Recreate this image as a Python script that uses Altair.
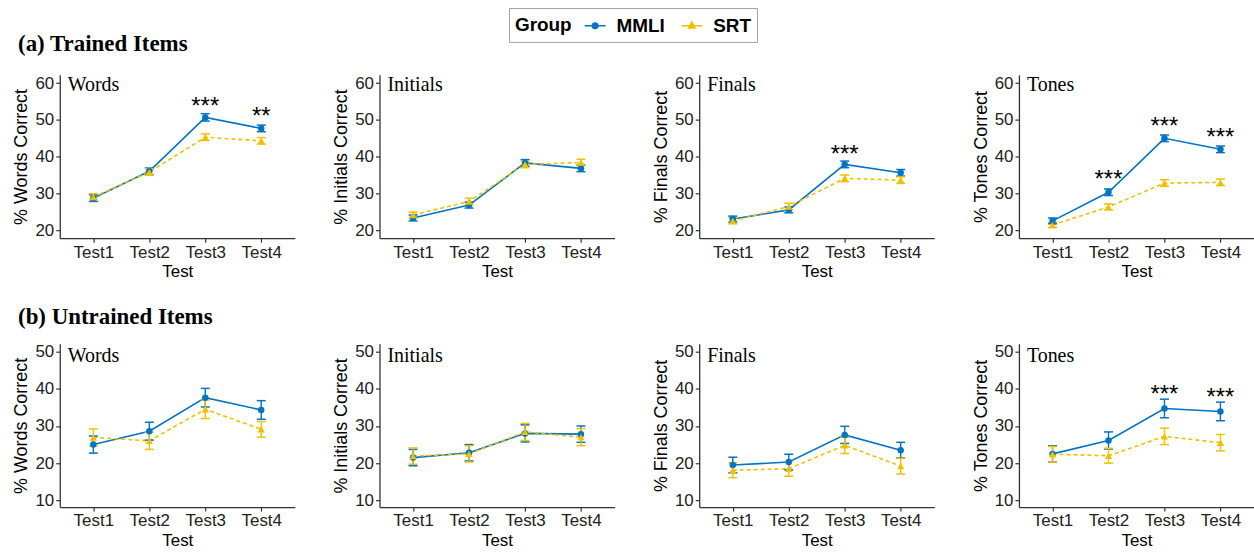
import altair as alt
import pandas as pd

tests = ["Test1", "Test2", "Test3", "Test4"]
groups = ["MMLI", "SRT"]
measures = ["Words", "Initials", "Finals", "Tones"]
colors = ["#0073C2", "#EFC000"]

# ---- (a) Trained items: means and standard errors ----
tr_words_mmli = [28.7, 36.0, 50.7, 47.7]
tr_words_mmli_se = [0.9, 0.9, 1.0, 0.9]
tr_words_srt = [29.0, 35.8, 45.3, 44.3]
tr_words_srt_se = [0.9, 0.9, 0.9, 0.9]

tr_initials_mmli = [23.3, 26.8, 38.3, 36.8]
tr_initials_mmli_se = [0.8, 0.8, 0.9, 0.9]
tr_initials_srt = [24.1, 27.8, 37.9, 38.4]
tr_initials_srt_se = [0.8, 0.9, 0.9, 0.9]

tr_finals_mmli = [23.0, 25.5, 37.9, 35.6]
tr_finals_mmli_se = [0.8, 0.8, 0.9, 0.9]
tr_finals_srt = [22.5, 26.4, 34.1, 33.6]
tr_finals_srt_se = [0.8, 0.9, 0.9, 0.9]

tr_tones_mmli = [22.5, 30.3, 45.0, 42.0]
tr_tones_mmli_se = [0.8, 0.9, 0.9, 0.9]
tr_tones_srt = [21.4, 26.3, 32.8, 33.0]
tr_tones_srt_se = [0.7, 0.8, 0.9, 0.9]

# ---- (b) Untrained items ----
un_words_mmli = [25.0, 28.6, 37.6, 34.3]
un_words_mmli_se = [2.3, 2.4, 2.5, 2.5]
un_words_srt = [26.9, 26.0, 34.5, 29.1]
un_words_srt_se = [2.3, 2.3, 2.5, 2.1]

un_initials_mmli = [21.5, 22.8, 28.0, 27.8]
un_initials_mmli_se = [2.2, 2.2, 2.3, 2.2]
un_initials_srt = [21.9, 22.5, 28.4, 27.0]
un_initials_srt_se = [2.2, 2.2, 2.3, 2.3]

un_finals_mmli = [19.5, 20.3, 27.6, 23.5]
un_finals_mmli_se = [2.1, 2.1, 2.3, 2.1]
un_finals_srt = [18.1, 18.5, 24.8, 19.2]
un_finals_srt_se = [2.0, 2.0, 2.2, 2.1]

un_tones_mmli = [22.5, 26.1, 34.7, 33.9]
un_tones_mmli_se = [2.2, 2.3, 2.5, 2.5]
un_tones_srt = [22.4, 22.0, 27.2, 25.5]
un_tones_srt_se = [2.1, 2.0, 2.2, 2.2]

# ---- significance stars (test, label, y position of text) ----
tr_words_stars = [("Test3", "***", 51.6), ("Test4", "**", 48.8)]
tr_finals_stars = [("Test3", "***", 38.6)]
tr_tones_stars = [("Test2", "***", 31.8), ("Test3", "***", 46.2), ("Test4", "***", 43.1)]
un_tones_stars = [("Test3", "***", 36.5), ("Test4", "***", 35.5)]

trained = {
    "Words": (tr_words_mmli, tr_words_mmli_se, tr_words_srt, tr_words_srt_se, tr_words_stars),
    "Initials": (tr_initials_mmli, tr_initials_mmli_se, tr_initials_srt, tr_initials_srt_se, []),
    "Finals": (tr_finals_mmli, tr_finals_mmli_se, tr_finals_srt, tr_finals_srt_se, tr_finals_stars),
    "Tones": (tr_tones_mmli, tr_tones_mmli_se, tr_tones_srt, tr_tones_srt_se, tr_tones_stars),
}
untrained = {
    "Words": (un_words_mmli, un_words_mmli_se, un_words_srt, un_words_srt_se, []),
    "Initials": (un_initials_mmli, un_initials_mmli_se, un_initials_srt, un_initials_srt_se, []),
    "Finals": (un_finals_mmli, un_finals_mmli_se, un_finals_srt, un_finals_srt_se, []),
    "Tones": (un_tones_mmli, un_tones_mmli_se, un_tones_srt, un_tones_srt_se, un_tones_stars),
}

PW, PH = 236, 164
SANS = "Liberation Sans"
SERIF = "Liberation Serif"

legend_params = dict(
    orient="none", legendX=451, legendY=-67, direction="horizontal",
    title="Group", titleOrient="left", titleFont=SANS, titleFontSize=19,
    titleFontWeight="bold", titleColor="black", titlePadding=12,
    labelFont=SANS, labelFontSize=19, labelFontWeight="bold", labelColor="black",
    labelOffset=10, columnPadding=12, symbolSize=441, symbolStrokeWidth=1.6,
    fillColor="white", strokeColor="#a0a0a0", padding=6,
)


def make_panel(measure, vals, domain, ticks, label_dy, with_legend=False):
    mm, mm_se, ss, ss_se, stars = vals
    rows = []
    for g, means, ses in (("MMLI", mm, mm_se), ("SRT", ss, ss_se)):
        for t, m, s in zip(tests, means, ses):
            rows.append({"Group": g, "Test": t, "Mean": m, "Lo": m - s, "Hi": m + s})
    df = pd.DataFrame(rows)

    x = alt.X("Test:N", sort=tests,
              scale=alt.Scale(type="point", domain=tests, padding=0.6),
              axis=alt.Axis(title="Test", labelAngle=0))
    yaxis = alt.Axis(title=f"% {measure} Correct", values=ticks, grid=False)
    yscale = alt.Scale(domain=domain, nice=False, zero=False)

    base = alt.Chart(df)
    layers = []
    for g, c in zip(groups, colors):
        d = base.transform_filter(alt.datum.Group == g)
        kw = dict(color=c, strokeWidth=1.6)
        if g == "SRT":
            kw["strokeDash"] = [4, 3]
        layers.append(d.mark_line(**kw).encode(
            x=x, y=alt.Y("Mean:Q", scale=yscale, axis=yaxis)))
    for g, c in zip(groups, colors):
        d = base.transform_filter(alt.datum.Group == g)
        layers.append(d.mark_rule(color=c, strokeWidth=1.4).encode(
            x=x, y=alt.Y("Lo:Q", scale=yscale, axis=yaxis), y2="Hi:Q"))
        layers.append(d.mark_tick(color=c, size=9, thickness=1.5, orient="horizontal", opacity=1).encode(
            x=x, y=alt.Y("Lo:Q", scale=yscale, axis=yaxis)))
        layers.append(d.mark_tick(color=c, size=9, thickness=1.5, orient="horizontal", opacity=1).encode(
            x=x, y=alt.Y("Hi:Q", scale=yscale, axis=yaxis)))
    for g, c, shp, sz in zip(groups, colors, ["circle", "triangle-up"], [42, 55]):
        d = base.transform_filter(alt.datum.Group == g)
        layers.append(d.mark_point(color=c, shape=shp, filled=True, size=sz, opacity=1).encode(
            x=x, y=alt.Y("Mean:Q", scale=yscale, axis=yaxis)))
    if stars:
        sdf = pd.DataFrame(stars, columns=["Test", "Stars", "StarY"])
        layers.append(alt.Chart(sdf).mark_text(
            font=SANS, fontSize=24, color="black", baseline="alphabetic", align="center").encode(
            x=x, y=alt.Y("StarY:Q", scale=yscale, axis=yaxis), text="Stars:N"))
    ldf = pd.DataFrame({"label": [measure]})
    layers.append(alt.Chart(ldf).mark_text(
        font=SERIF, fontSize=20, color="black", align="left", baseline="alphabetic").encode(
        text="label:N", x=alt.value(8), y=alt.value(label_dy)))
    if with_legend:
        path_c = "M-1,0L1,0M-0.26,0A0.26,0.26 0 1,1 0.26,0A0.26,0.26 0 1,1 -0.26,0Z"
        path_t = "M-1,0L1,0M0,-0.34L0.3,0.2L-0.3,0.2Z"
        gdf = pd.DataFrame({"Group": groups})
        layers.append(alt.Chart(gdf).transform_filter("false").mark_point(
            filled=True, opacity=1, strokeWidth=1.6).encode(
            fill=alt.Fill("Group:N", scale=alt.Scale(domain=groups, range=colors),
                          legend=alt.Legend(**legend_params)),
            stroke=alt.Stroke("Group:N", scale=alt.Scale(domain=groups, range=colors),
                              legend=alt.Legend(**legend_params)),
            shape=alt.Shape("Group:N", scale=alt.Scale(domain=groups, range=[path_c, path_t]),
                            legend=alt.Legend(**legend_params)),
        ))
    return alt.layer(*layers).properties(width=PW, height=PH)


row_a = alt.hconcat(
    *[make_panel(m, trained[m], [17.8, 62.3], [20, 30, 40, 50, 60], 16, with_legend=(i == 0))
      for i, m in enumerate(measures)],
    spacing=38,
).properties(title=alt.TitleParams(
    text="(a) Trained Items", anchor="start", font=SERIF, fontSize=23,
    fontWeight="bold", color="black", baseline="alphabetic", offset=0, dx=5))

row_b = alt.hconcat(
    *[make_panel(m, untrained[m], [8.2, 52.1], [10, 20, 30, 40, 50], 18)
      for m in measures],
    spacing=38,
).properties(title=alt.TitleParams(
    text="(b) Untrained Items", anchor="start", font=SERIF, fontSize=23,
    fontWeight="bold", color="black", baseline="alphabetic", offset=-4, dx=5))

chart = alt.vconcat(row_a, row_b, spacing=25).properties(
    padding={"left": 13, "top": 6, "right": 0, "bottom": 0},
    background="white",
).configure_view(stroke=None).configure_axis(
    labelFont=SANS, labelFontSize=17, labelColor="#222222",
    titleFont=SANS, titleFontSize=18, titleFontWeight="normal", titleColor="black",
    domainColor="#333333", domainWidth=1.3, tickColor="#333333", tickWidth=1.2,
    tickSize=4, labelPadding=2, titlePadding=4,
).configure_axisX(titleFontSize=17)

chart.save("out.html", embed_options={"renderer": "svg", "actions": False})
